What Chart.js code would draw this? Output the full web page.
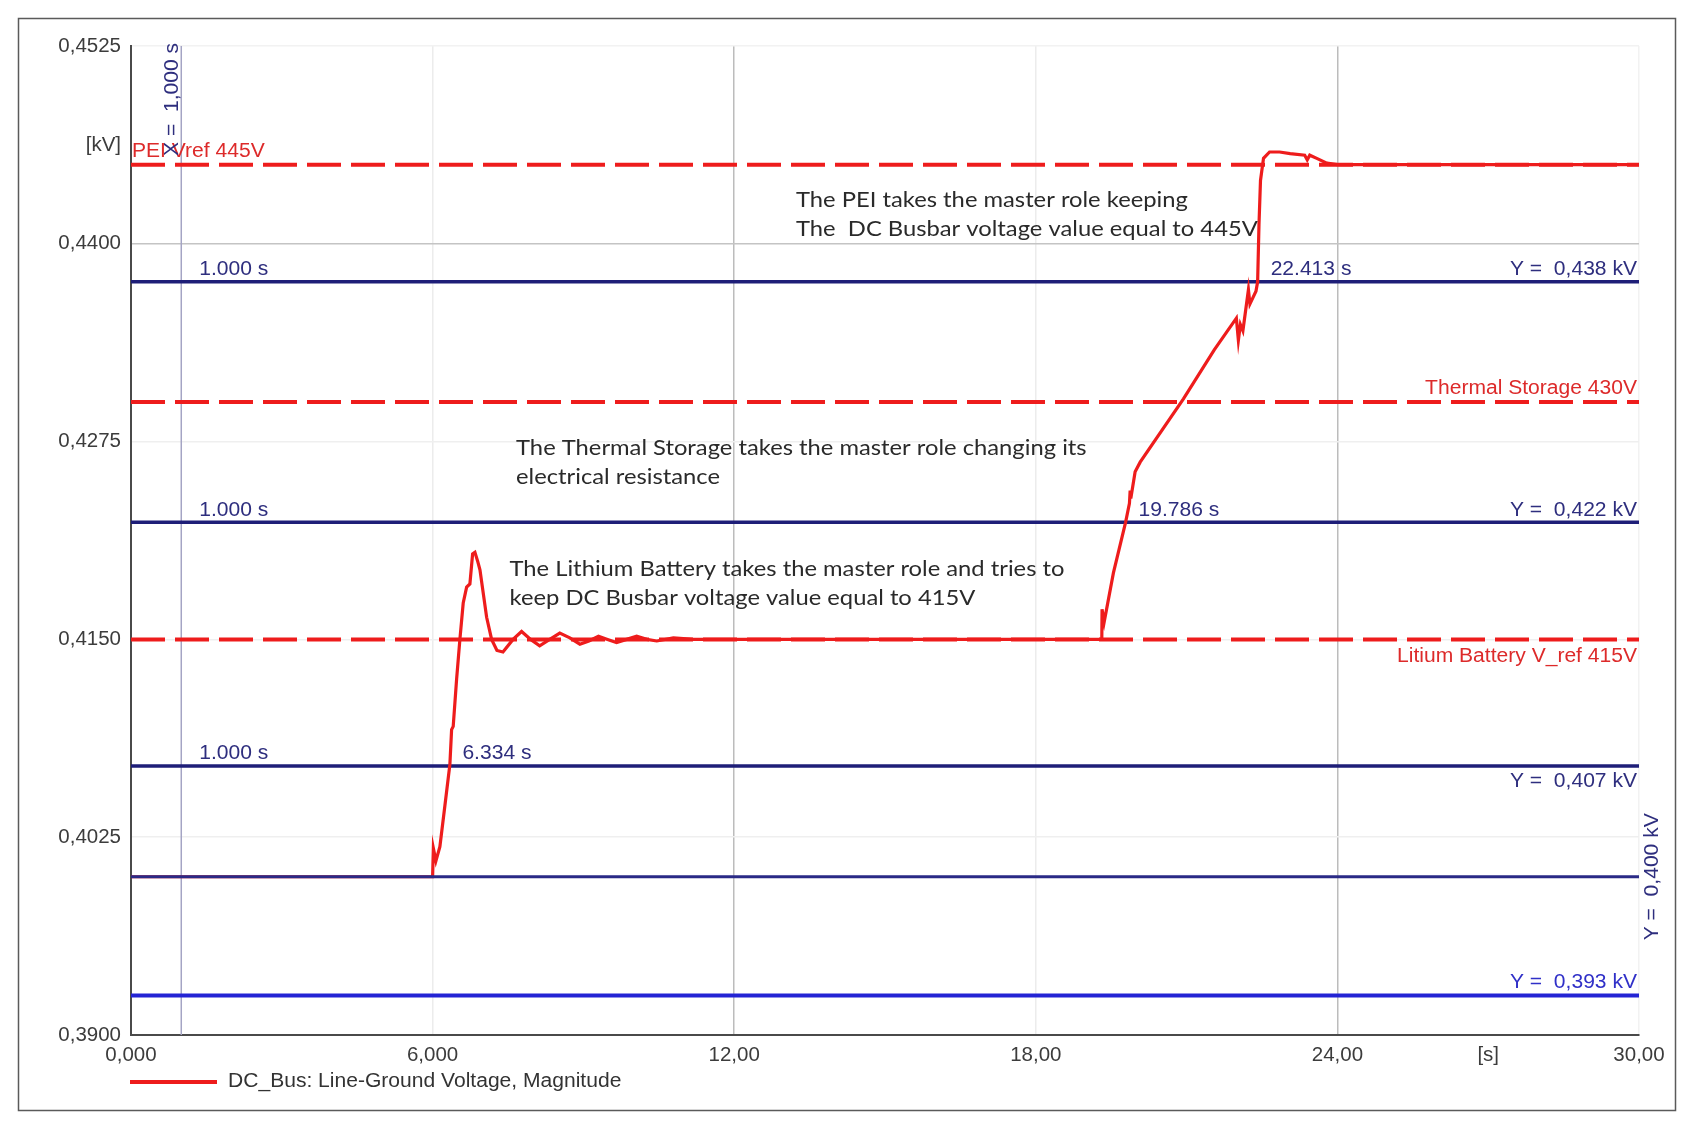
<!DOCTYPE html>
<html>
<head>
<meta charset="utf-8">
<script src="https://cdn.jsdelivr.net/npm/chart.js@4"></script>
<style>
  html, body { margin: 0; padding: 0; background: #ffffff; }
  #voltageChart { display: block; }
</style>
</head>
<body>
<canvas id="voltageChart" width="1700" height="1134"></canvas>
<script>
// Simulated DC bus voltage
const TIME_S = [
  0.0, 6.0, 6.015, 6.066, 6.145, 6.245, 6.344, 6.378, 6.41, 6.478, 6.543, 6.609,
  6.677, 6.742, 6.796, 6.842, 6.9, 6.942, 7.075, 7.174, 7.28, 7.4, 7.6, 7.77,
  7.95, 8.13, 8.33, 8.53, 8.73, 8.93, 9.11, 9.3, 9.48, 9.66, 9.86, 10.06, 10.26,
  10.46, 10.79, 11.19, 12.0, 19.313, 19.318, 19.36, 19.544, 19.786, 19.863,
  19.877, 19.89, 19.976, 20.076, 20.937, 21.55, 21.99, 22.03, 22.07, 22.12,
  22.23, 22.26, 22.32, 22.38, 22.413, 22.44, 22.47, 22.53, 22.65, 22.85, 23.06,
  23.35, 23.4, 23.45, 23.59, 23.79, 24.0, 30.0,
];
const VOLTAGE_KV = [
  0.4, 0.4, 0.4018, 0.401, 0.4019, 0.4045, 0.4071, 0.4093, 0.4095, 0.4125,
  0.415, 0.4173, 0.4183, 0.4185, 0.4204, 0.4205, 0.4199, 0.4194, 0.4164, 0.415,
  0.4143, 0.4142, 0.415, 0.4155, 0.415, 0.4146, 0.415, 0.4154, 0.4151, 0.4147,
  0.4149, 0.4152, 0.415, 0.4148, 0.415, 0.4152, 0.415, 0.4149, 0.4151, 0.415,
  0.415, 0.415, 0.4169, 0.4161, 0.4192, 0.4224, 0.4236, 0.4244, 0.4239, 0.4256,
  0.4262, 0.4302, 0.4333, 0.4353, 0.4339, 0.4349, 0.4345, 0.4371, 0.4362,
  0.4366, 0.437, 0.4376, 0.4412, 0.444, 0.4454, 0.4458, 0.4458, 0.4457, 0.4456,
  0.4453, 0.4456, 0.4454, 0.4451, 0.445, 0.445,
];

// Reference voltages of the three master units (dashed red)
const REF_LEVELS_KV = [0.445, 0.43, 0.415];
const REF_LABELS = ["PEI Vref 445V", "Thermal Storage 430V", "Litium Battery V_ref 415V"];

// Horizontal cursors (blue)
const CURSOR_LEVELS_KV = [0.4376, 0.4224, 0.407, 0.4, 0.3925];
const CURSOR_LABELS = ["Y =  0,438 kV", "Y =  0,422 kV", "Y =  0,407 kV", "Y =  0,400 kV", "Y =  0,393 kV"];
const CROSSING_TIMES_S = [22.413, 19.786, 6.334];
const CROSSING_LABELS = ["22.413 s", "19.786 s", "6.334 s"];

// Vertical cursor
const CURSOR_TIME_S = 1.0;
const CURSOR_TIME_LABEL = "X =  1,000 s";
const CURSOR_START_LABEL = "1.000 s";

const X_TICKS = [0, 3, 6, 9, 12, 15, 18, 21, 24, 27, 30];
const X_TICK_LABELS = ["0,000", "", "6,000", "", "12,00", "", "18,00", "", "24,00", "[s]", "30,00"];
const Y_TICKS = [0.39, 0.39625, 0.4025, 0.40875, 0.415, 0.42125, 0.4275, 0.43375, 0.44, 0.44625, 0.4525];
const Y_TICK_LABELS = ["0,3900", "", "0,4025", "", "0,4150", "", "0,4275", "", "0,4400", "[kV]", "0,4525"];

const NOTES = [
  ["The PEI takes the master role keeping", "The  DC Busbar voltage value equal to 445V"],
  ["The Thermal Storage takes the master role changing its", "electrical resistance"],
  ["The Lithium Battery takes the master role and tries to", "keep DC Busbar voltage value equal to 415V"],
];
const NOTE_ANCHORS = [
  { t: 13.23, v: 0.4428 },
  { t: 7.66, v: 0.42712 },
  { t: 7.53, v: 0.41946 },
];

const LEGEND_TEXT = "DC_Bus: Line-Ground Voltage, Magnitude";

const RED = "#ee1c1c";
const NAVY = "#1e1e78";
const BLUE = "#2424d4";
const LABEL_FONT = '19.5px "Liberation Sans", Arial, sans-serif';
const NOTE_FONT = '22px Lato, "Open Sans", sans-serif';

const hLine = (level) => [
  { x: 0, y: level },
  { x: 30, y: level },
];

const datasets = [
  {
    label: "cursor 0.400",
    data: hLine(CURSOR_LEVELS_KV[3]),
    borderColor: "#2a2a86",
    borderWidth: 3,
    order: 0,
  },
  {
    label: LEGEND_TEXT,
    data: TIME_S.map((t, i) => ({ x: t, y: VOLTAGE_KV[i] })),
    borderColor: RED,
    borderWidth: 3.2,
    order: 1,
  },
];

[0, 1, 2].forEach((i) => {
  datasets.push({
    label: CURSOR_LABELS[i],
    data: hLine(CURSOR_LEVELS_KV[i]),
    borderColor: NAVY,
    borderWidth: 3.5,
    order: 2,
  });
});

datasets.push({
  label: CURSOR_LABELS[4],
  data: hLine(CURSOR_LEVELS_KV[4]),
  borderColor: BLUE,
  borderWidth: 4,
  order: 2,
});

REF_LEVELS_KV.forEach((level, i) => {
  datasets.push({
    label: REF_LABELS[i],
    data: hLine(level),
    borderColor: RED,
    borderWidth: 4,
    borderDash: [34, 10],
    order: 3,
  });
});

datasets.push({
  label: CURSOR_TIME_LABEL,
  data: [
    { x: CURSOR_TIME_S, y: 0.39 },
    { x: CURSOR_TIME_S, y: 0.4525 },
  ],
  borderColor: "#a4a4c4",
  borderWidth: 1.5,
  order: 4,
});

// Text in the original is a little wider than the installed fonts, hence stretchX
const drawText = (ctx, text, x, y, color, align = "left", font = LABEL_FONT, stretchX = 1.08) => {
  ctx.save();
  ctx.translate(x, y);
  ctx.scale(stretchX, 1);
  ctx.font = font;
  ctx.fillStyle = color;
  ctx.textAlign = align;
  ctx.textBaseline = "middle";
  ctx.fillText(text, 0, 0);
  ctx.restore();
};

// Labels, annotations, legend and frame drawn on top of the plot
const overlayPlugin = {
  id: "overlay",
  beforeDraw(chart) {
    const { ctx, width, height } = chart;
    ctx.save();
    ctx.fillStyle = "#ffffff";
    ctx.fillRect(0, 0, width, height);
    ctx.restore();
  },
  afterDraw(chart) {
    const { ctx, chartArea } = chart;
    const xs = chart.scales.x;
    const ys = chart.scales.y;
    const right = chartArea.right - 2;
    const cursorX = xs.getPixelForValue(CURSOR_TIME_S);

    ctx.save();

    // Outer frame
    ctx.strokeStyle = "#5a5a5a";
    ctx.lineWidth = 1.5;
    ctx.strokeRect(18.5, 18.5, 1657, 1092);

    // Reference labels
    const refY = REF_LEVELS_KV.map((v) => ys.getPixelForValue(v));
    drawText(ctx, REF_LABELS[0], chartArea.left + 1, refY[0] - 13, "#dd2a2a");
    drawText(ctx, REF_LABELS[1], right, refY[1] - 13, "#dd2a2a", "right");
    drawText(ctx, REF_LABELS[2], right, refY[2] + 17, "#dd2a2a", "right");

    // Cursor labels
    [0, 1, 2].forEach((i) => {
      const y = ys.getPixelForValue(CURSOR_LEVELS_KV[i]);
      drawText(ctx, CURSOR_START_LABEL, cursorX + 18, y - 12, "#2e2e7e");
      drawText(ctx, CROSSING_LABELS[i], xs.getPixelForValue(CROSSING_TIMES_S[i]) + 13, y - 12, "#2e2e7e");
      drawText(ctx, CURSOR_LABELS[i], right, i === 2 ? y + 16 : y - 12, "#2e2e7e", "right");
    });
    const lowY = ys.getPixelForValue(CURSOR_LEVELS_KV[4]);
    drawText(ctx, CURSOR_LABELS[4], right, lowY - 13, "#3030c8", "right");

    // Rotated cursor labels
    ctx.save();
    ctx.translate(chartArea.right + 14, ys.getPixelForValue(CURSOR_LEVELS_KV[3]));
    ctx.rotate(-Math.PI / 2);
    drawText(ctx, CURSOR_LABELS[3], 0, 0, "#2e2e7e", "center");
    ctx.restore();

    ctx.save();
    ctx.translate(cursorX - 9, chartArea.top - 3);
    ctx.rotate(-Math.PI / 2);
    drawText(ctx, CURSOR_TIME_LABEL, 0, 0, "#2e2e7e", "right");
    ctx.restore();

    // Annotations
    NOTES.forEach((lines, i) => {
      const x = xs.getPixelForValue(NOTE_ANCHORS[i].t);
      const y = ys.getPixelForValue(NOTE_ANCHORS[i].v);
      lines.forEach((line, j) => drawText(ctx, line, x, y + j * 29, "#2a2a2a", "left", NOTE_FONT, 1.08));
    });

    // Legend
    ctx.strokeStyle = RED;
    ctx.lineWidth = 4;
    ctx.beginPath();
    ctx.moveTo(130, 1082);
    ctx.lineTo(217, 1082);
    ctx.stroke();
    drawText(ctx, LEGEND_TEXT, 228, 1082, "#333333");

    ctx.restore();
  },
};

const xGridColor = (value) => {
  if (value === 12 || value === 24) return "#bcbcbc";
  if (value === 6 || value === 18) return "#ececec";
  if (value === 30) return "#f2f2f2";
  return "rgba(0,0,0,0)";
};

const yGridColor = (value) => {
  if (Math.abs(value - 0.44) < 1e-6) return "#c4c4c4";
  if (Math.abs(value - 0.4525) < 1e-6) return "#f2f2f2";
  const idx = Y_TICKS.findIndex((t) => Math.abs(t - value) < 1e-6);
  if (idx > 0 && idx % 2 === 0) return "#efefef";
  return "rgba(0,0,0,0)";
};

const TICK_FONT = { family: '"Liberation Sans", Arial, sans-serif', size: 20.5 };

new Chart(document.getElementById("voltageChart"), {
  type: "line",
  data: { datasets },
  plugins: [overlayPlugin],
  options: {
    responsive: false,
    animation: false,
    devicePixelRatio: 1,
    layout: {
      padding: { top: 46, right: 61, bottom: 0, left: 0 },
    },
    elements: {
      point: { radius: 0 },
      line: { tension: 0 },
    },
    plugins: {
      legend: { display: false },
      tooltip: { enabled: false },
    },
    scales: {
      x: {
        type: "linear",
        min: 0,
        max: 30,
        afterBuildTicks: (scale) => {
          scale.ticks = X_TICKS.map((value) => ({ value }));
        },
        afterFit: (scale) => {
          scale.height = 99;
        },
        border: { display: true, color: "#4a4a4a", width: 2 },
        grid: {
          drawTicks: false,
          lineWidth: 1.5,
          color: (context) => xGridColor(context.tick ? context.tick.value : null),
        },
        ticks: {
          autoSkip: false,
          maxRotation: 0,
          padding: 8,
          color: "#3c3c3c",
          font: TICK_FONT,
          callback: (value, index) => X_TICK_LABELS[index],
        },
      },
      y: {
        type: "linear",
        min: 0.39,
        max: 0.4525,
        afterBuildTicks: (scale) => {
          scale.ticks = Y_TICKS.map((value) => ({ value }));
        },
        afterFit: (scale) => {
          scale.width = 131;
        },
        border: { display: true, color: "#4a4a4a", width: 2 },
        grid: {
          drawTicks: false,
          lineWidth: 1.5,
          color: (context) => yGridColor(context.tick ? context.tick.value : null),
        },
        ticks: {
          padding: 10,
          color: "#3c3c3c",
          font: TICK_FONT,
          callback: (value, index) => Y_TICK_LABELS[index],
        },
      },
    },
  },
});
</script>
</body>
</html>
